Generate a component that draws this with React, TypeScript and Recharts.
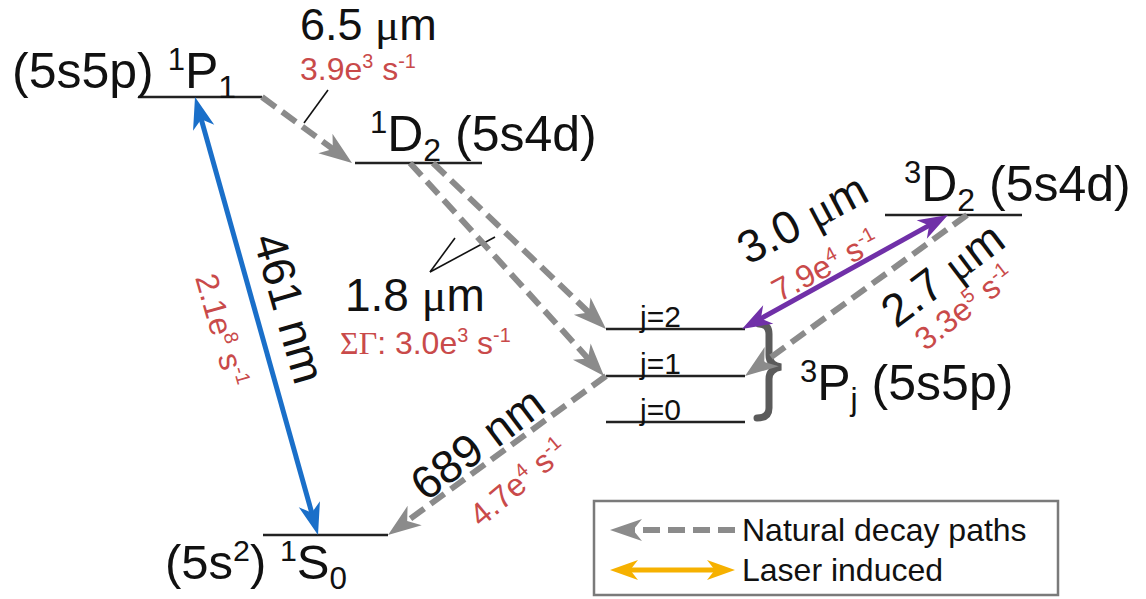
import React from 'react';
import { ComposedChart, XAxis, YAxis, ReferenceLine, ReferenceDot, ReferenceArea } from 'recharts';

// ---------- DATA ----------
// Energy levels of Sr (diagram coordinates: column span + level height)
const levelNames = ['(5s5p) ^{1}P_{1}', '^{1}D_{2} (5s4d)', '^{3}D_{2} (5s4d)', 'j=2', 'j=1', 'j=0', '(5s^{2}) ^{1}S_{0}'];
const levelXStart = [138, 355, 885, 606, 606, 606, 263];
const levelXEnd = [262, 482, 1022, 745, 745, 745, 388];
const levelY = [97, 163, 215, 329, 376, 422, 535];

// Transitions: from level / to level, with x positions on each level
const transFrom = [0, 1, 1, 4, 2, 6, 3];
const transFromX = [262, 410, 433, 606, 967, 318, 742];
const transTo = [1, 4, 3, 6, 4, 0, 2];
const transToX = [352, 604, 606, 388, 745, 195, 948];
const transKind = ['decay', 'decay', 'decay', 'decay', 'decay', 'blue', 'purple'];

// Wavelengths and rates
const wavelengths = ['6.5 ~{μ}m', '1.8 ~{μ}m', '689 nm', '2.7 ~{μ}m', '461 nm', '3.0 ~{μ}m'];
const rates = ['3.9e^{3} s^{-1}', '~{ΣΓ}: 3.0e^{3} s^{-1}', '4.7e^{4} s^{-1}', '3.3e^{5} s^{-1}', '2.1e^{8} s^{-1}', '7.9e^{4} s^{-1}'];

const legendNames = ['Natural decay paths', 'Laser induced'];

// ---------- LAYOUT ----------
const W = 1146;
const H = 599;
const FONT = '"Liberation Sans", Arial, Helvetica, sans-serif';
const RED = '#c94a4a';
const GREY = '#8b8b8b';
const BLUE = '#1a6fc9';
const PURPLE = '#7030a8';
const ORANGE = '#f6b100';

type Lab = { x: number; y: number; size: number; angle: number; anchor: 'start' | 'middle'; central: boolean };

const levelLabelPos: Lab[] = [
  { x: 12, y: 88, size: 50, angle: 0, anchor: 'start', central: false },
  { x: 370, y: 151, size: 50, angle: 0, anchor: 'start', central: false },
  { x: 904, y: 201, size: 50, angle: 0, anchor: 'start', central: false },
  { x: 640, y: 327, size: 30, angle: 0, anchor: 'start', central: false },
  { x: 640, y: 374, size: 30, angle: 0, anchor: 'start', central: false },
  { x: 640, y: 420, size: 30, angle: 0, anchor: 'start', central: false },
  { x: 165, y: 579, size: 49, angle: 0, anchor: 'start', central: false },
];

const wlPos: Lab[] = [
  { x: 300, y: 40, size: 45, angle: 0, anchor: 'start', central: false },
  { x: 345, y: 311, size: 46, angle: 0, anchor: 'start', central: false },
  { x: 477, y: 443, size: 46, angle: -37, anchor: 'middle', central: true },
  { x: 942, y: 274, size: 46, angle: -37, anchor: 'middle', central: true },
  { x: 290, y: 308, size: 46, angle: 74, anchor: 'middle', central: true },
  { x: 802, y: 218, size: 46, angle: -28, anchor: 'middle', central: true },
];

const ratePos: Lab[] = [
  { x: 300, y: 80, size: 32, angle: 0, anchor: 'start', central: false },
  { x: 340, y: 354, size: 32, angle: 0, anchor: 'start', central: false },
  { x: 518, y: 482, size: 32, angle: -40, anchor: 'middle', central: true },
  { x: 964, y: 307, size: 32, angle: -38, anchor: 'middle', central: true },
  { x: 222, y: 330, size: 32, angle: 74, anchor: 'middle', central: true },
  { x: 825, y: 265, size: 32, angle: -28, anchor: 'middle', central: true },
];

const chartData = levelY.map((y, i) => ({ x: (levelXStart[i] + levelXEnd[i]) / 2, y }));

// ---------- HELPERS ----------
type Seg = { t: string; k: 'n' | 'sup' | 'sub' | 'serif' };
function parseRich(s: string): Seg[] {
  const segs: Seg[] = [];
  let i = 0;
  let buf = '';
  while (i < s.length) {
    const c = s[i];
    if ((c === '^' || c === '_' || c === '~') && s[i + 1] === '{') {
      if (buf) { segs.push({ t: buf, k: 'n' }); buf = ''; }
      const end = s.indexOf('}', i + 2);
      segs.push({ t: s.slice(i + 2, end), k: c === '^' ? 'sup' : c === '_' ? 'sub' : 'serif' });
      i = end + 1;
    } else {
      buf += c;
      i++;
    }
  }
  if (buf) segs.push({ t: buf, k: 'n' });
  return segs;
}

function RichText(props: { x: number; y: number; text: string; size: number; color: string; anchor: 'start' | 'middle'; angle: number; central: boolean }) {
  const { x, y, text, size, color, anchor, angle, central } = props;
  const segs = parseRich(text);
  let shift = 0;
  const kids = segs.map((sg, i) => {
    let target = 0;
    let fs = size;
    let fam: string | undefined;
    if (sg.k === 'sup') { target = -0.36 * size; fs = 0.62 * size; }
    if (sg.k === 'sub') { target = 0.2 * size; fs = 0.64 * size; }
    if (sg.k === 'serif') { fam = '"Liberation Serif", "DejaVu Serif", serif'; }
    const dy = target - shift;
    shift = target;
    return (
      <tspan key={i} dy={dy} fontSize={fs} fontFamily={fam}>
        {sg.t}
      </tspan>
    );
  });
  const by = central ? y + size * 0.36 : y;
  return (
    <text
      x={x}
      y={by}
      fill={color}
      fontSize={size}
      fontFamily={FONT}
      textAnchor={anchor}
      style={{ whiteSpace: 'pre' }}
      transform={angle ? `rotate(${angle} ${x} ${y})` : undefined}
    >
      {kids}
    </text>
  );
}

function headPath(tx: number, ty: number, dx: number, dy: number, L: number, Wd: number) {
  const px = -dy;
  const py = dx;
  const bx = tx + dx * L;
  const by = ty + dy * L;
  const nx = tx + dx * L * 0.72;
  const ny = ty + dy * L * 0.72;
  return `M${tx},${ty} L${bx + (px * Wd) / 2},${by + (py * Wd) / 2} L${nx},${ny} L${bx - (px * Wd) / 2},${by - (py * Wd) / 2} Z`;
}

type ArrowOpts = { color: string; width: number; dashed: boolean; headStart: boolean; headEnd: boolean; L: number; Wd: number };
function makeArrow(o: ArrowOpts) {
  return (p: any) => {
    const { x1, y1, x2, y2 } = p;
    const ddx = x2 - x1;
    const ddy = y2 - y1;
    const len = Math.hypot(ddx, ddy) || 1;
    const ux = ddx / len;
    const uy = ddy / len;
    let sx = x1, sy = y1, ex = x2, ey = y2;
    if (o.headStart) { sx += ux * o.L * 0.7; sy += uy * o.L * 0.7; }
    if (o.headEnd) { ex -= ux * o.L * 0.7; ey -= uy * o.L * 0.7; }
    return (
      <g>
        <line x1={sx} y1={sy} x2={ex} y2={ey} stroke={o.color} strokeWidth={o.width} strokeDasharray={o.dashed ? '17 8' : undefined} />
        {o.headStart && <path d={headPath(x1, y1, ux, uy, o.L, o.Wd)} fill={o.color} />}
        {o.headEnd && <path d={headPath(x2, y2, -ux, -uy, o.L, o.Wd)} fill={o.color} />}
      </g>
    );
  };
}

const arrowStyles: Record<string, ArrowOpts> = {
  decay: { color: GREY, width: 6, dashed: true, headStart: false, headEnd: true, L: 33, Wd: 24 },
  blue: { color: BLUE, width: 5, dashed: false, headStart: true, headEnd: true, L: 32, Wd: 22 },
  purple: { color: PURPLE, width: 5, dashed: false, headStart: true, headEnd: true, L: 30, Wd: 21 },
  orange: { color: ORANGE, width: 5, dashed: false, headStart: true, headEnd: true, L: 28, Wd: 20 },
  legendDecay: { color: GREY, width: 6, dashed: true, headStart: false, headEnd: true, L: 32, Wd: 22 },
};

const braceShape = (p: any) => {
  const { x1, y1, y2 } = p;
  const mid = (y1 + y2) / 2 - 6;
  const x = x1;
  const d = `M${x - 10},${y1} Q${x},${y1} ${x},${y1 + 10} L${x},${mid - 10} Q${x},${mid} ${x + 12},${mid + 2} Q${x},${mid + 4} ${x},${mid + 14} L${x},${y2 - 10} Q${x},${y2} ${x - 12},${y2}`;
  return <path d={d} fill="none" stroke="#5b5b5b" strokeWidth={7} strokeLinecap="round" />;
};

const leaderShape = (p: any) => {
  const { x1, y1, x2, y2 } = p;
  return <line x1={x1} y1={y1} x2={x2} y2={y2} stroke="#111" strokeWidth={1.6} />;
};

const levelShape = (p: any) => {
  const { x1, y1, x2, y2 } = p;
  return <line x1={x1} y1={y1} x2={x2} y2={y2} stroke="#222" strokeWidth={2.6} />;
};

export default function App() {
  return (
    <div style={{ position: 'absolute', left: 0, top: 0, width: W, height: H, background: '#fff' }}>
      <ComposedChart width={W} height={H} margin={{ top: 0, right: 0, bottom: 0, left: 0 }} data={chartData}>
        <XAxis type="number" dataKey="x" domain={[0, W]} allowDataOverflow hide height={0} />
        <YAxis type="number" dataKey="y" domain={[0, H]} allowDataOverflow reversed hide width={0} />

        {/* legend box */}
        <ReferenceArea x1={594} x2={1058} y1={501} y2={595} fill="none" stroke="#7a7a7a" strokeWidth={2.5} fillOpacity={0} strokeOpacity={1} ifOverflow="visible" />

        {/* energy levels */}
        {levelY.map((y, i) => (
          <ReferenceLine key={'lv' + i} segment={[{ x: levelXStart[i], y }, { x: levelXEnd[i], y }]} shape={levelShape} ifOverflow="visible" />
        ))}

        {/* brace for 3Pj */}
        <ReferenceLine segment={[{ x: 769, y: levelY[3] - 5 }, { x: 769, y: levelY[5] - 4 }]} shape={braceShape} ifOverflow="visible" />

        {/* leader lines */}
        <ReferenceLine segment={[{ x: 328, y: 90 }, { x: 304, y: 123 }]} shape={leaderShape} ifOverflow="visible" />
        <ReferenceLine segment={[{ x: 455, y: 238 }, { x: 430, y: 272 }]} shape={leaderShape} ifOverflow="visible" />
        <ReferenceLine segment={[{ x: 430, y: 272 }, { x: 495, y: 237 }]} shape={leaderShape} ifOverflow="visible" />

        {/* transitions */}
        {transFrom.map((f, i) => (
          <ReferenceLine
            key={'tr' + i}
            segment={[{ x: transFromX[i], y: levelY[f] }, { x: transToX[i], y: levelY[transTo[i]] }]}
            shape={makeArrow(arrowStyles[transKind[i]])}
            ifOverflow="visible"
          />
        ))}

        {/* level labels */}
        {levelNames.map((t, i) => (
          <ReferenceDot key={'ll' + i} x={levelLabelPos[i].x} y={levelLabelPos[i].y} r={1} ifOverflow="visible"
            shape={(p: any) => <RichText x={p.cx} y={p.cy} text={t} size={levelLabelPos[i].size} color="#111" anchor={levelLabelPos[i].anchor} angle={0} central={false} />} />
        ))}
        <ReferenceDot x={800} y={400} r={1} ifOverflow="visible"
          shape={(p: any) => <RichText x={p.cx} y={p.cy} text="^{3}P_{j} (5s5p)" size={50} color="#111" anchor="start" angle={0} central={false} />} />

        {/* wavelength labels */}
        {wavelengths.map((t, i) => (
          <ReferenceDot key={'wl' + i} x={wlPos[i].x} y={wlPos[i].y} r={1} ifOverflow="visible"
            shape={(p: any) => <RichText x={p.cx} y={p.cy} text={t} size={wlPos[i].size} color="#111" anchor={wlPos[i].anchor} angle={wlPos[i].angle} central={wlPos[i].central} />} />
        ))}

        {/* rate labels */}
        {rates.map((t, i) => (
          <ReferenceDot key={'rt' + i} x={ratePos[i].x} y={ratePos[i].y} r={1} ifOverflow="visible"
            shape={(p: any) => <RichText x={p.cx} y={p.cy} text={t} size={ratePos[i].size} color={RED} anchor={ratePos[i].anchor} angle={ratePos[i].angle} central={ratePos[i].central} />} />
        ))}

        {/* legend */}
        <ReferenceLine segment={[{ x: 735, y: 530 }, { x: 610, y: 530 }]} shape={makeArrow(arrowStyles.legendDecay)} ifOverflow="visible" />
        <ReferenceLine segment={[{ x: 610, y: 570 }, { x: 735, y: 570 }]} shape={makeArrow(arrowStyles.orange)} ifOverflow="visible" />
        {legendNames.map((t, i) => (
          <ReferenceDot key={'lg' + i} x={742} y={541 + i * 40} r={1} ifOverflow="visible"
            shape={(p: any) => <RichText x={p.cx} y={p.cy} text={t} size={32} color="#111" anchor="start" angle={0} central={false} />} />
        ))}
      </ComposedChart>
    </div>
  );
}
